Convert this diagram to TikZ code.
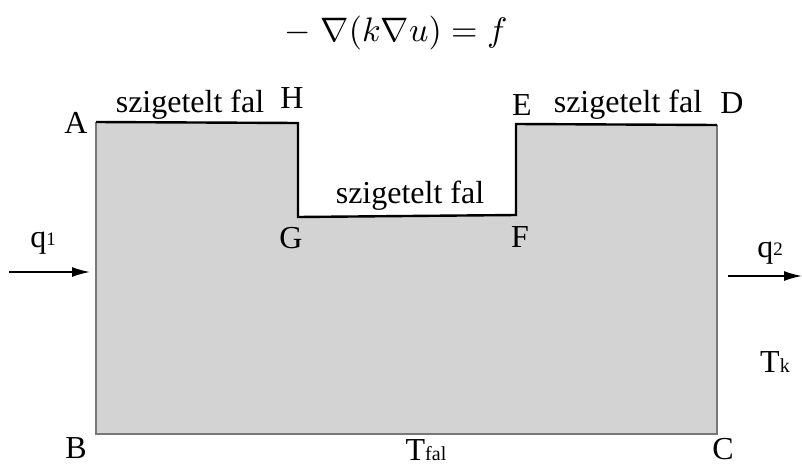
\documentclass[tikz,border=0pt]{standalone}
\usepackage{fontspec}
\setmainfont{Liberation Serif}
\usetikzlibrary{arrows.meta}
\definecolor{regionfill}{RGB}{211,211,211}
\definecolor{sidegray}{RGB}{120,120,120}
\begin{document}
\begin{tikzpicture}[x=1pt,y=-1pt,
  lbl/.style={font=\fontsize{32}{32}\selectfont, anchor=base, inner sep=0pt},
  wall/.style={line width=2.4pt, black, line join=miter},
  side/.style={line width=1.4pt, sidegray},
  flow/.style={line width=1.6pt, -{Latex[length=18pt,width=10pt]}}]
\useasboundingbox (0,0) rectangle (802,466);
% corners
\coordinate (A) at (96,122);
\coordinate (H) at (298,123);
\coordinate (G) at (298,217);
\coordinate (F) at (516,215);
\coordinate (E) at (516,124);
\coordinate (D) at (717,125);
\coordinate (C) at (717,434);
\coordinate (B) at (96,434);
% region
\fill[regionfill] (A) -- (H) -- (G) -- (F) -- (E) -- (D) -- (C) -- (B) -- cycle;
\draw[side] (D) -- (C) -- (B) -- (A);
\draw[wall] (A) -- (H) -- (G) -- (F) -- (E) -- (D);
% equation
\node[anchor=base, inner sep=0pt] (eq) at (396,41) {\scalebox{3.4}{$-\;\nabla(k\nabla u) = f$}};
% corner labels
\node[lbl] (lA) at (76,133) {A};
\node[lbl] (lH) at (292,108) {H};
\node[lbl] (lG) at (291,248) {G};
\node[lbl] (lF) at (520,247) {F};
\node[lbl] (lE) at (522,115) {E};
\node[lbl] (lD) at (732,113) {D};
\node[lbl] (lB) at (76,458) {B};
\node[lbl] (lC) at (723,459) {C};
% wall labels
\node[lbl] (w1) at (190,112) {szigetelt fal};
\node[lbl] (w2) at (410,203) {szigetelt fal};
\node[lbl] (w3) at (628,112) {szigetelt fal};
% boundary conditions
\node[lbl] (q1) at (43,247) {q\raisebox{2pt}{\fontsize{19}{19}\selectfont 1}};
\node[lbl] (q2) at (770,257) {q\raisebox{2pt}{\fontsize{19}{19}\selectfont 2}};
\node[lbl] (Tk) at (775,372) {T{\fontsize{20}{20}\selectfont k}};
\node[lbl] (Tfal) at (426,460) {T{\fontsize{20}{20}\selectfont fal}};
% flux arrows
\coordinate (q1s) at (9,272);
\coordinate (q1e) at (90,272);
\coordinate (q2s) at (728,276);
\coordinate (q2e) at (802,276);
\draw[flow] (q1s) -- (q1e);
\draw[flow] (q2s) -- (q2e);
\end{tikzpicture}
\end{document}
